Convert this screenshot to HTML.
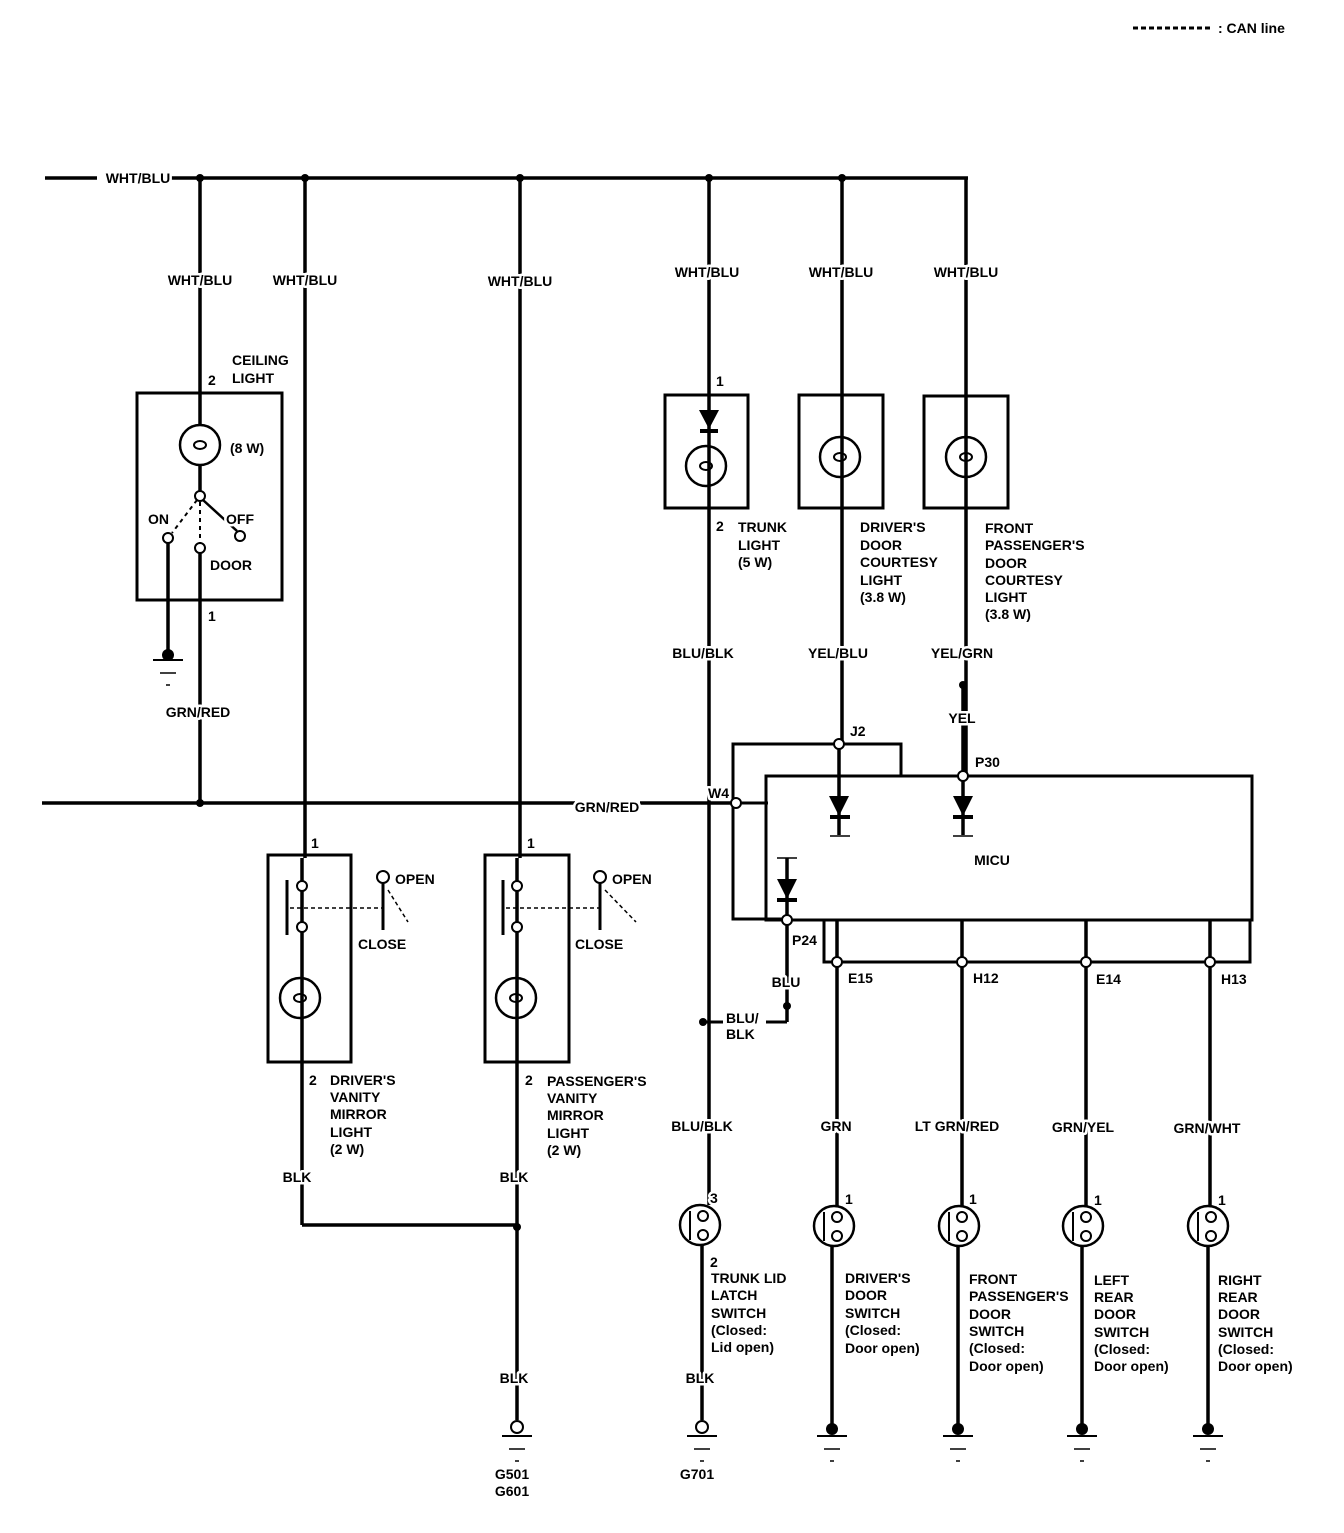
<!DOCTYPE html>
<html><head><meta charset="utf-8"><style>
body{margin:0;background:#fff}
svg text{font-family:"Liberation Sans Narrow","Liberation Sans",sans-serif;font-weight:bold;font-size:14px;fill:#000;stroke:#fff;stroke-width:5px;paint-order:stroke;stroke-linejoin:round}
</style></head><body>
<svg width="1344" height="1528" viewBox="0 0 1344 1528" xmlns="http://www.w3.org/2000/svg">
<defs>
<g id="bulb"><circle r="20" fill="none" stroke="#000" stroke-width="2.5"/><ellipse cx="0" cy="0" rx="6" ry="4" fill="none" stroke="#000" stroke-width="2"/></g>
<g id="sw"><circle r="20" fill="#fff" stroke="#000" stroke-width="2.5"/><circle cx="3" cy="-9" r="5" fill="#fff" stroke="#000" stroke-width="2"/><circle cx="3" cy="10" r="5" fill="#fff" stroke="#000" stroke-width="2"/><line x1="-10" y1="-14" x2="-10" y2="15" stroke="#000" stroke-width="2"/></g>
<g id="gnd"><line x1="-15" y1="8" x2="15" y2="8" stroke="#000" stroke-width="2"/><line x1="-8" y1="21" x2="8" y2="21" stroke="#000" stroke-width="1.5"/><line x1="-2" y1="33" x2="2" y2="33" stroke="#000" stroke-width="1.5"/></g>
</defs>
<g stroke="#000" stroke-width="3.5" fill="none">
<line x1="1133" y1="28" x2="1212" y2="28" stroke-width="3" stroke-dasharray="5,3"/>
<line x1="45" y1="178" x2="97" y2="178"/><line x1="170" y1="178" x2="968" y2="178"/>
<line x1="966" y1="178" x2="966" y2="776"/>
<line x1="200" y1="178" x2="200" y2="425"/>
<line x1="305" y1="178" x2="305" y2="858"/><line x1="302" y1="858" x2="302" y2="1225"/>
<line x1="520" y1="178" x2="520" y2="858"/><line x1="517" y1="858" x2="517" y2="1420"/>
<line x1="709" y1="178" x2="709" y2="1205"/><line x1="702" y1="1245" x2="702" y2="1420"/>
<line x1="842" y1="178" x2="842" y2="744"/>
<rect x="137" y="393" width="145" height="207" stroke-width="3"/>
<line x1="200" y1="465" x2="200" y2="491"/>
<line x1="203" y1="500" x2="237" y2="531" stroke-width="2.5"/>
<line x1="197" y1="500" x2="172" y2="533" stroke-width="2" stroke-dasharray="4,4"/>
<line x1="200" y1="502" x2="200" y2="543" stroke-width="2" stroke-dasharray="4,4"/>
<line x1="168" y1="543" x2="168" y2="655"/>
<line x1="200" y1="553" x2="200" y2="803"/>
<line x1="42" y1="803" x2="575" y2="803"/><line x1="640" y1="803" x2="731" y2="803"/>
<line x1="741" y1="803" x2="768" y2="803" stroke-width="3"/>
<rect x="268" y="855" width="83" height="207" stroke-width="3"/>
<rect x="485" y="855" width="84" height="207" stroke-width="3"/>
<line x1="287" y1="880" x2="287" y2="935" stroke-width="3"/>
<line x1="503" y1="880" x2="503" y2="935" stroke-width="3"/>
<line x1="290" y1="908" x2="383" y2="908" stroke-width="1.5" stroke-dasharray="4,3"/>
<line x1="506" y1="908" x2="600" y2="908" stroke-width="1.5" stroke-dasharray="4,3"/>
<line x1="383" y1="883" x2="383" y2="930" stroke-width="3"/>
<line x1="600" y1="883" x2="600" y2="930" stroke-width="3"/>
<line x1="388" y1="890" x2="408" y2="922" stroke-width="1.5" stroke-dasharray="4,3"/>
<line x1="605" y1="890" x2="636" y2="922" stroke-width="1.5" stroke-dasharray="4,3"/>
<line x1="302" y1="1225" x2="517" y2="1225"/>
<rect x="665" y="395" width="83" height="113" stroke-width="3"/>
<rect x="799" y="395" width="84" height="113" stroke-width="3"/>
<rect x="924" y="396" width="84" height="112" stroke-width="3"/>
<line x1="700" y1="431" x2="718" y2="431" stroke-width="4"/>
<polyline points="787,919 733,919 733,744 901,744 901,776" stroke-width="3"/>
<rect x="766" y="776" width="486" height="144" stroke-width="3"/>
<polyline points="824,920 824,962 1250,962 1250,920" stroke-width="3"/>
<line x1="839" y1="744" x2="839" y2="835"/>
<line x1="830" y1="817" x2="850" y2="817" stroke-width="4"/>
<line x1="830" y1="836" x2="850" y2="836" stroke-width="1.5"/>
<line x1="963" y1="685" x2="963" y2="835"/>
<line x1="953" y1="817" x2="973" y2="817" stroke-width="4"/>
<line x1="953" y1="836" x2="973" y2="836" stroke-width="1.5"/>
<line x1="787" y1="858" x2="787" y2="1022"/>
<line x1="777" y1="858" x2="797" y2="858" stroke-width="1.5"/>
<line x1="777" y1="900" x2="797" y2="900" stroke-width="4"/>
<line x1="766" y1="1022" x2="787" y2="1022" stroke-width="3"/>
<line x1="703" y1="1022" x2="723" y2="1022" stroke-width="3"/>
<line x1="837" y1="920" x2="837" y2="1206"/><line x1="832" y1="1246" x2="832" y2="1425"/>
<line x1="962" y1="920" x2="962" y2="1206"/><line x1="958" y1="1246" x2="958" y2="1425"/>
<line x1="1086" y1="920" x2="1086" y2="1206"/><line x1="1082" y1="1246" x2="1082" y2="1425"/>
<line x1="1210" y1="920" x2="1210" y2="1206"/><line x1="1208" y1="1246" x2="1208" y2="1425"/>
</g>
<g fill="#000">
<polygon points="699,410 719,410 709,429"/>
<polygon points="829,796 849,796 839,816"/>
<polygon points="953,796 973,796 963,816"/>
<polygon points="777,879 797,879 787,899"/>
</g>
<g fill="#fff">
<use href="#bulb" x="200" y="445"/>
<use href="#bulb" x="706" y="466"/>
<use href="#bulb" x="840" y="457"/>
<use href="#bulb" x="966" y="457"/>
<use href="#bulb" x="300" y="998"/>
<use href="#bulb" x="516" y="998"/>
</g>
<use href="#sw" x="700" y="1225"/>
<use href="#sw" x="834" y="1226"/>
<use href="#sw" x="959" y="1226"/>
<use href="#sw" x="1083" y="1226"/>
<use href="#sw" x="1208" y="1226"/>
<g fill="#fff" stroke="#000" stroke-width="2">
<circle cx="200" cy="496" r="5"/><circle cx="168" cy="538" r="5"/><circle cx="240" cy="536" r="5"/><circle cx="200" cy="548" r="5"/>
<circle cx="302" cy="886" r="5"/><circle cx="302" cy="927" r="5"/><circle cx="383" cy="877" r="6"/>
<circle cx="517" cy="886" r="5"/><circle cx="517" cy="927" r="5"/><circle cx="600" cy="877" r="6"/>
<circle cx="839" cy="744" r="5"/><circle cx="963" cy="776" r="5"/><circle cx="736" cy="803" r="5"/><circle cx="787" cy="920" r="5"/>
<circle cx="837" cy="962" r="5"/><circle cx="962" cy="962" r="5"/><circle cx="1086" cy="962" r="5"/><circle cx="1210" cy="962" r="5"/>
<circle cx="517" cy="1427" r="6"/><circle cx="702" cy="1427" r="6"/>
</g>
<g fill="#000">
<circle cx="200" cy="178" r="4"/><circle cx="305" cy="178" r="4"/><circle cx="520" cy="178" r="4"/><circle cx="709" cy="178" r="4"/><circle cx="842" cy="178" r="4"/>
<circle cx="200" cy="803" r="4"/><circle cx="963" cy="685" r="4"/><circle cx="787" cy="1006" r="4"/><circle cx="703" cy="1022" r="4"/><circle cx="517" cy="1227" r="4"/>
<circle cx="168" cy="655" r="6"/>
<circle cx="832" cy="1429" r="6"/><circle cx="958" cy="1429" r="6"/><circle cx="1082" cy="1429" r="6"/><circle cx="1208" cy="1429" r="6"/>
</g>
<use href="#gnd" x="168" y="652"/>
<use href="#gnd" x="517" y="1428"/>
<use href="#gnd" x="702" y="1428"/>
<use href="#gnd" x="832" y="1428"/>
<use href="#gnd" x="958" y="1428"/>
<use href="#gnd" x="1082" y="1428"/>
<use href="#gnd" x="1208" y="1428"/>
<text x="1218" y="33">: CAN line</text>
<g text-anchor="middle">
<text x="138" y="183">WHT/BLU</text>
<text x="200" y="285">WHT/BLU</text><text x="305" y="285">WHT/BLU</text><text x="520" y="286">WHT/BLU</text>
<text x="707" y="277">WHT/BLU</text><text x="841" y="277">WHT/BLU</text><text x="966" y="277">WHT/BLU</text>
<text x="198" y="717">GRN/RED</text><text x="607" y="812">GRN/RED</text>
<text x="703" y="658">BLU/BLK</text><text x="838" y="658">YEL/BLU</text><text x="962" y="658">YEL/GRN</text>
<text x="962" y="723">YEL</text><text x="786" y="987">BLU</text>
<text x="297" y="1182">BLK</text><text x="514" y="1182">BLK</text><text x="514" y="1383">BLK</text><text x="700" y="1383">BLK</text>
<text x="702" y="1131">BLU/BLK</text><text x="836" y="1131">GRN</text><text x="957" y="1131">LT GRN/RED</text><text x="1083" y="1132">GRN/YEL</text><text x="1207" y="1133">GRN/WHT</text>
<text x="512" y="1479">G501</text><text x="512" y="1496">G601</text><text x="697" y="1479">G701</text>
<text x="992" y="865">MICU</text>
</g>
<text x="232" y="365">CEILING</text><text x="232" y="383">LIGHT</text><text x="208" y="385">2</text>
<text x="230" y="453">(8 W)</text><text x="148" y="524">ON</text><text x="226" y="524">OFF</text><text x="210" y="570">DOOR</text><text x="208" y="621">1</text>
<text x="311" y="848">1</text><text x="527" y="848">1</text>
<text x="395" y="884">OPEN</text><text x="612" y="884">OPEN</text><text x="358" y="949">CLOSE</text><text x="575" y="949">CLOSE</text>
<text x="309" y="1085">2</text><text x="525" y="1085">2</text>
<text x="330" y="1085">DRIVER'S</text><text x="330" y="1102">VANITY</text><text x="330" y="1119">MIRROR</text><text x="330" y="1137">LIGHT</text><text x="330" y="1154">(2 W)</text>
<text x="547" y="1086">PASSENGER'S</text><text x="547" y="1103">VANITY</text><text x="547" y="1120">MIRROR</text><text x="547" y="1138">LIGHT</text><text x="547" y="1155">(2 W)</text>
<text x="716" y="386">1</text><text x="716" y="531">2</text>
<text x="738" y="532">TRUNK</text><text x="738" y="550">LIGHT</text><text x="738" y="567">(5 W)</text>
<text x="860" y="532">DRIVER'S</text><text x="860" y="550">DOOR</text><text x="860" y="567">COURTESY</text><text x="860" y="585">LIGHT</text><text x="860" y="602">(3.8 W)</text>
<text x="985" y="533">FRONT</text><text x="985" y="550">PASSENGER'S</text><text x="985" y="568">DOOR</text><text x="985" y="585">COURTESY</text><text x="985" y="602">LIGHT</text><text x="985" y="619">(3.8 W)</text>
<text x="850" y="736">J2</text><text x="975" y="767">P30</text><text x="708" y="798">W4</text><text x="792" y="945">P24</text>
<text x="726" y="1023">BLU/</text><text x="726" y="1039">BLK</text>
<text x="848" y="983">E15</text><text x="973" y="983">H12</text><text x="1096" y="984">E14</text><text x="1221" y="984">H13</text>
<text x="710" y="1203">3</text><text x="845" y="1204">1</text><text x="969" y="1204">1</text><text x="1094" y="1205">1</text><text x="1218" y="1205">1</text>
<text x="710" y="1267">2</text>
<text x="711" y="1283">TRUNK LID</text><text x="711" y="1300">LATCH</text><text x="711" y="1318">SWITCH</text><text x="711" y="1335">(Closed:</text><text x="711" y="1352">Lid open)</text>
<text x="845" y="1283">DRIVER'S</text><text x="845" y="1300">DOOR</text><text x="845" y="1318">SWITCH</text><text x="845" y="1335">(Closed:</text><text x="845" y="1353">Door open)</text>
<text x="969" y="1284">FRONT</text><text x="969" y="1301">PASSENGER'S</text><text x="969" y="1319">DOOR</text><text x="969" y="1336">SWITCH</text><text x="969" y="1353">(Closed:</text><text x="969" y="1371">Door open)</text>
<text x="1094" y="1285">LEFT</text><text x="1094" y="1302">REAR</text><text x="1094" y="1319">DOOR</text><text x="1094" y="1337">SWITCH</text><text x="1094" y="1354">(Closed:</text><text x="1094" y="1371">Door open)</text>
<text x="1218" y="1285">RIGHT</text><text x="1218" y="1302">REAR</text><text x="1218" y="1319">DOOR</text><text x="1218" y="1337">SWITCH</text><text x="1218" y="1354">(Closed:</text><text x="1218" y="1371">Door open)</text>
</svg>
</body></html>
